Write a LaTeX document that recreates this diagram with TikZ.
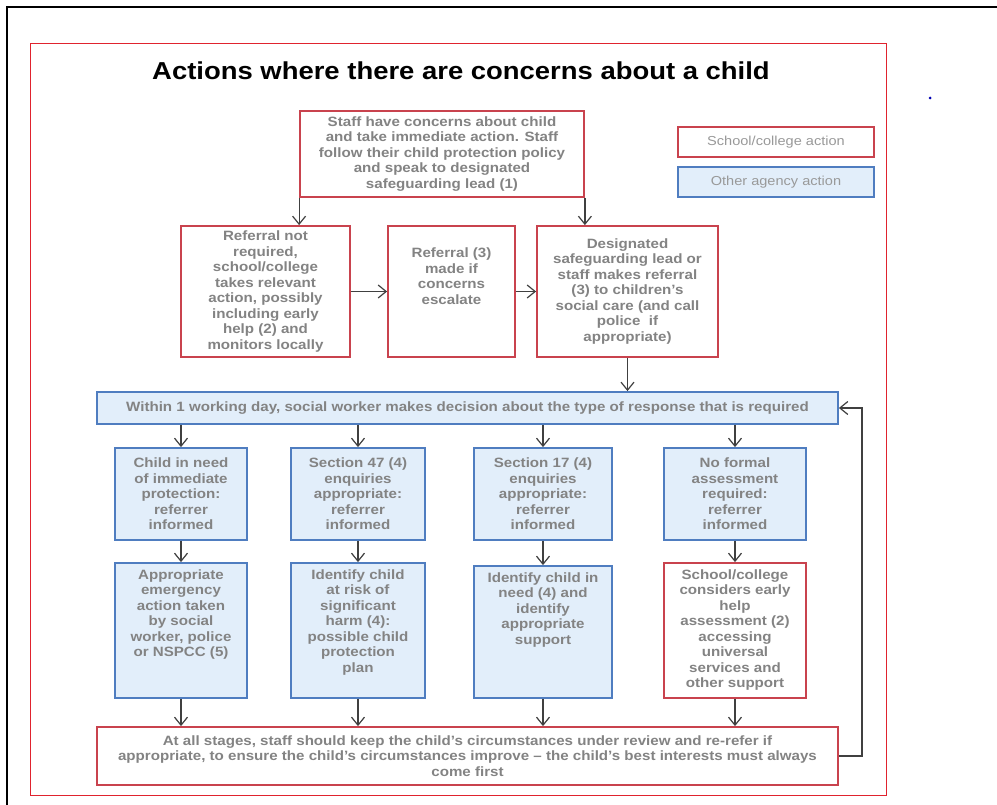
\documentclass[tikz,border=0pt]{standalone}
\usepackage{fontspec}
\setmainfont{Liberation Sans}[FakeStretch=1.12]
\usepackage{xcolor}
\usepackage{tikz}
\usetikzlibrary{arrows.meta}

\definecolor{schoolred}{HTML}{C9434E}
\definecolor{agencyblue}{HTML}{4F7DC0}
\definecolor{agencyfill}{HTML}{E2EEFA}
\definecolor{textgrey}{HTML}{838383}
\definecolor{framered}{HTML}{E0232E}

\tikzset{
  school/.style={draw=schoolred, line width=1.8pt, fill=white, align=center,
    text=textgrey, inner sep=0pt, font=\bfseries\fontsize{13.5}{15.5}\selectfont},
  agency/.style={school, draw=agencyblue, fill=agencyfill},
  boxtext/.style={align=center, text=textgrey, inner sep=0pt,
    font=\bfseries\fontsize{13.5}{15.5}\selectfont},
  legend/.style={line width=1.8pt, inner sep=0pt, text=black!40,
    font=\fontsize{13}{15}\selectfont, minimum width=196, minimum height=30},
  arr/.style={-{Straight Barb[length=8pt,width=13pt]}, draw=black!75, line width=1.2pt},
}

\begin{document}
\begin{tikzpicture}[x=1pt, y=-1pt]
    \useasboundingbox (0,0) rectangle (997,805);
    \fill[white] (0,0) rectangle (997,805);

    % Rahmen
    \draw[line width=2pt] (7,805) -- (7,7) -- (997,7);
    \draw[framered, line width=1pt] (30,44) rectangle (886,795);
    \fill[blue!70!black] (930,98) circle (1.5);

    % Titel
    \node[font=\bfseries\fontsize{24.5}{28}\selectfont] (title) at (461,71)
        {Actions where there are concerns about a child};

    % Legende
    \node[legend, draw=schoolred, fill=white] (legschool) at (776,142) {School/college action};
    \node[legend, draw=agencyblue, fill=agencyfill] (legagency) at (776,182) {Other agency action};

    % Schule
    \node[school, minimum width=284, minimum height=86] (concern) at (442,154)
        {Staff have concerns about child\\and take immediate action. Staff\\follow their child protection policy\\and speak to designated\\safeguarding lead (1)};
    \node[school, minimum width=169, minimum height=131] (noreferral) at (265.5,291.5)
        {Referral not\\required,\\school/college\\takes relevant\\action, possibly\\including early\\help (2) and\\monitors locally};
    \node[school, minimum width=127, minimum height=131] (escalate) at (451.5,291.5)
        {Referral (3)\\made if\\concerns\\escalate\\[15.5pt]};
    \node[school, minimum width=181, minimum height=131] (dsl) at (627.5,291.5)
        {Designated\\safeguarding lead or\\staff makes referral\\(3) to children's\\social care (and call\\police\ \ if\\appropriate)};

    % Sozialarbeit
    \node[agency, minimum width=741, minimum height=32] (decision) at (467.5,408)
        {Within 1 working day, social worker makes decision about the type of response that is required};

    \node[agency, minimum width=132, minimum height=92] (immediate) at (181,494)
        {Child in need\\of immediate\\protection:\\referrer\\informed};
    \node[agency, minimum width=134, minimum height=92] (sfortyseven) at (358,494)
        {Section 47 (4)\\enquiries\\appropriate:\\referrer\\informed};
    \node[agency, minimum width=138, minimum height=92] (sseventeen) at (543,494)
        {Section 17 (4)\\enquiries\\appropriate:\\referrer\\informed};
    \node[agency, minimum width=142, minimum height=92] (noformal) at (735,494)
        {No formal\\assessment\\required:\\referrer\\informed};

    \node[agency, minimum width=132, minimum height=135] (emergency) at (181,630.5) {};
    \node[boxtext, anchor=north] (emergency-t) at ([yshift=-7pt]emergency.north)
        {Appropriate\\emergency\\action taken\\by social\\worker, police\\or NSPCC (5)};
    \node[agency, minimum width=134, minimum height=135] (harm) at (358,630.5) {};
    \node[boxtext, anchor=north] (harm-t) at ([yshift=-7pt]harm.north)
        {Identify child\\at risk of\\significant\\harm (4):\\possible child\\protection\\plan};
    \node[agency, minimum width=138, minimum height=132] (inneed) at (543,632) {};
    \node[boxtext, anchor=north] (inneed-t) at ([yshift=-7pt]inneed.north)
        {Identify child in\\need (4) and\\identify\\appropriate\\support};
    \node[school, minimum width=142, minimum height=135] (earlyhelp) at (735,630.5) {};
    \node[boxtext, anchor=north] (earlyhelp-t) at ([yshift=-7pt]earlyhelp.north)
        {School/college\\considers early\\help\\assessment (2)\\accessing\\universal\\services and\\other support};

    \node[school, minimum width=741, minimum height=58] (review) at (467.5,756)
        {At all stages, staff should keep the child's circumstances under review and re-refer if\\appropriate, to ensure the child's circumstances improve -- the child's best interests must always\\come first};

    % Pfeile
    \draw[arr] (concern.south west) -- (concern.south west |- noreferral.north);
    \draw[arr] (concern.south east) -- (concern.south east |- dsl.north);
    \draw[arr] (noreferral) -- (escalate);
    \draw[arr] (escalate) -- (dsl);
    \draw[arr] (dsl.south) -- (dsl.south |- decision.north);

    \draw[arr] (immediate.north |- decision.south) -- (immediate);
    \draw[arr] (sfortyseven.north |- decision.south) -- (sfortyseven);
    \draw[arr] (sseventeen.north |- decision.south) -- (sseventeen);
    \draw[arr] (noformal.north |- decision.south) -- (noformal);

    \draw[arr] (immediate) -- (emergency);
    \draw[arr] (sfortyseven) -- (harm);
    \draw[arr] (sseventeen) -- (inneed);
    \draw[arr] (noformal) -- (earlyhelp);

    \draw[arr] (emergency) -- (emergency |- review.north);
    \draw[arr] (harm) -- (harm |- review.north);
    \draw[arr] (inneed) -- (inneed |- review.north);
    \draw[arr] (earlyhelp) -- (earlyhelp |- review.north);

    \coordinate (loop) at (862,408);
    \draw[arr] (review.east) -- (review.east -| loop) -- (loop) -- (decision.east);
\end{tikzpicture}
\end{document}
